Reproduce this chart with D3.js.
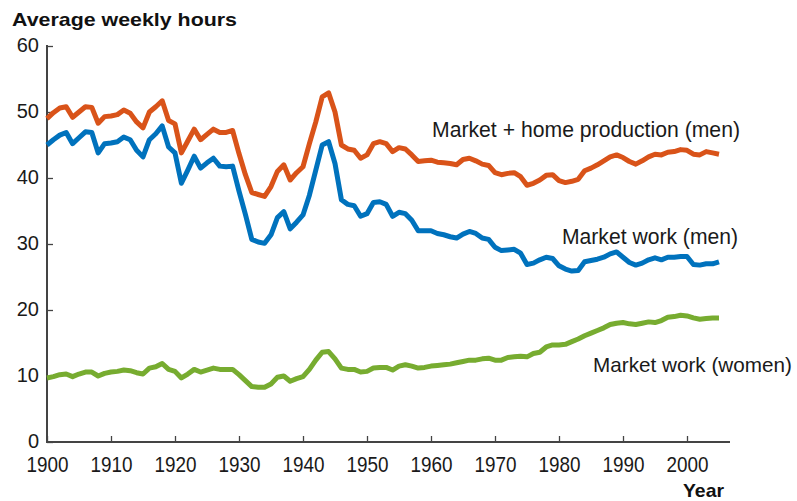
<!DOCTYPE html>
<html><head><meta charset="utf-8">
<script src="https://cdn.jsdelivr.net/npm/d3@7"></script>
<style>body{margin:0;background:#fff}svg{display:block}</style>
</head><body>
<svg id="chart" width="797" height="501"></svg>
<script>
const startYear = 1900;
const marketHomeMen = [49.0,49.9,50.6,50.8,49.2,50.0,50.8,50.7,48.3,49.3,49.4,49.6,50.3,49.8,48.5,47.6,50.0,50.8,51.7,48.7,48.2,43.8,45.6,47.4,45.8,46.6,47.4,46.9,46.9,47.2,43.7,40.5,37.8,37.5,37.2,38.7,41.0,42.0,39.7,40.8,41.7,45.2,48.5,52.3,52.9,50.0,45.0,44.4,44.2,43.0,43.5,45.2,45.5,45.2,44.0,44.6,44.4,43.5,42.5,42.6,42.7,42.4,42.3,42.2,42.0,42.8,43.0,42.6,42.1,41.9,40.8,40.5,40.7,40.8,40.2,38.9,39.2,39.7,40.4,40.5,39.6,39.3,39.5,39.8,41.1,41.5,42.0,42.6,43.2,43.5,43.1,42.5,42.1,42.6,43.2,43.6,43.5,43.9,44.0,44.3,44.2,43.6,43.5,44.0,43.8,43.6];
const marketMen = [45.0,45.8,46.5,46.9,45.2,46.1,47.0,46.9,43.8,45.2,45.3,45.5,46.2,45.8,44.2,43.2,45.8,46.7,47.9,44.7,43.8,39.2,41.2,43.3,41.5,42.3,43.0,41.8,41.7,41.8,38.0,34.5,30.7,30.3,30.1,31.4,34.0,34.9,32.3,33.3,34.4,37.4,41.2,45.0,45.5,42.2,36.7,36.0,35.8,34.2,34.6,36.3,36.4,36.0,34.2,34.8,34.6,33.6,32.0,32.0,32.0,31.6,31.4,31.1,30.9,31.5,31.9,31.6,30.9,30.7,29.5,29.0,29.1,29.2,28.6,26.9,27.1,27.6,28.0,27.8,26.7,26.2,25.9,26.0,27.3,27.5,27.7,28.0,28.5,28.8,28.0,27.2,26.8,27.1,27.6,27.9,27.6,28.0,28.0,28.1,28.1,26.9,26.8,27.0,27.0,27.3];
const marketWomen = [9.7,9.9,10.2,10.3,9.9,10.3,10.6,10.6,10.0,10.4,10.6,10.7,10.9,10.8,10.5,10.3,11.2,11.4,11.9,11.0,10.7,9.7,10.3,11.0,10.6,10.9,11.2,11.0,11.0,11.0,10.2,9.3,8.4,8.3,8.3,8.8,9.8,10.0,9.2,9.6,9.9,11.0,12.4,13.6,13.7,12.6,11.2,11.0,11.0,10.6,10.7,11.2,11.3,11.3,10.9,11.5,11.7,11.5,11.2,11.3,11.5,11.6,11.7,11.8,12.0,12.2,12.4,12.4,12.6,12.7,12.4,12.4,12.8,12.9,13.0,12.9,13.4,13.6,14.4,14.7,14.7,14.8,15.2,15.6,16.1,16.5,16.9,17.3,17.8,18.0,18.1,17.9,17.8,18.0,18.2,18.1,18.4,18.9,19.0,19.2,19.1,18.8,18.6,18.7,18.8,18.8];
const seriesNames = ["Market + home production (men)","Market work (men)","Market work (women)"];
const xTicks = [1900,1910,1920,1930,1940,1950,1960,1970,1980,1990,2000];
const yTicks = [0,10,20,30,40,50,60];

const svg = d3.select("#chart");
const font = "Liberation Sans, Arial, Helvetica, sans-serif";
const x = d3.scaleLinear().domain([1900,2000]).range([47,687]);
const y = d3.scaleLinear().domain([0,60]).range([442,46]);
const axisColor = "#444";
const textColor = "#1a1a1a";

// axes
const xAxis = svg.append("g").attr("transform","translate(0,442)")
  .call(d3.axisBottom(x).tickValues(xTicks).tickFormat(d3.format("d")).tickSizeInner(-6).tickSizeOuter(0).tickPadding(14));
xAxis.select(".domain").remove();
xAxis.append("line").attr("x1",46).attr("x2",730).attr("y1",0).attr("y2",0).attr("stroke",axisColor).attr("stroke-width",2);
xAxis.selectAll(".tick line").attr("stroke",axisColor).attr("stroke-width",1.3);
xAxis.selectAll(".tick text").attr("font-family",font).attr("font-size",22).attr("fill",textColor)
  .attr("textLength",42).attr("lengthAdjust","spacingAndGlyphs");

const yAxis = svg.append("g").attr("transform","translate(47,0)")
  .call(d3.axisLeft(y).tickValues(yTicks).tickSizeInner(-6).tickSizeOuter(0).tickPadding(8));
yAxis.select(".domain").remove();
yAxis.append("line").attr("x1",0).attr("x2",0).attr("y1",45).attr("y2",443).attr("stroke",axisColor).attr("stroke-width",2);
yAxis.selectAll(".tick line").attr("stroke",axisColor).attr("stroke-width",1.3);
yAxis.selectAll(".tick text").attr("font-family",font).attr("font-size",20).attr("fill",textColor).attr("dy","0.25em");

// lines
const series = [
  {name: seriesNames[0], values: marketHomeMen, color: "#D95319"},
  {name: seriesNames[1], values: marketMen, color: "#0072BD"},
  {name: seriesNames[2], values: marketWomen, color: "#77AC30"}
];
const line = d3.line().x((d,i)=>x(startYear+i)).y(d=>y(d));
series.forEach(s=>{
  svg.append("path").datum(s.values).attr("d",line).attr("fill","none")
    .attr("stroke",s.color).attr("stroke-width",5).attr("stroke-linejoin","round").attr("stroke-linecap","butt");
});

// labels
const labels = [
  {text: seriesNames[0], x: 432, y: 137, w: 308, fs: 22},
  {text: seriesNames[1], x: 562, y: 244, w: 176, fs: 22},
  {text: seriesNames[2], x: 593, y: 372, w: 199, fs: 21}
];
labels.forEach(l=>{
  svg.append("text").attr("x",l.x).attr("y",l.y).attr("font-family",font).attr("font-size",l.fs).attr("fill",textColor)
    .attr("textLength",l.w).attr("lengthAdjust","spacingAndGlyphs").text(l.text);
});

svg.append("text").attr("x",12).attr("y",26).attr("font-family",font).attr("font-size",19).attr("font-weight","bold").attr("fill","#111")
  .attr("textLength",225).attr("lengthAdjust","spacingAndGlyphs").text("Average weekly hours");
svg.append("text").attr("x",683).attr("y",497).attr("font-family",font).attr("font-size",19).attr("font-weight","bold").attr("fill","#111")
  .attr("textLength",41).attr("lengthAdjust","spacingAndGlyphs").text("Year");
</script>
</body></html>
